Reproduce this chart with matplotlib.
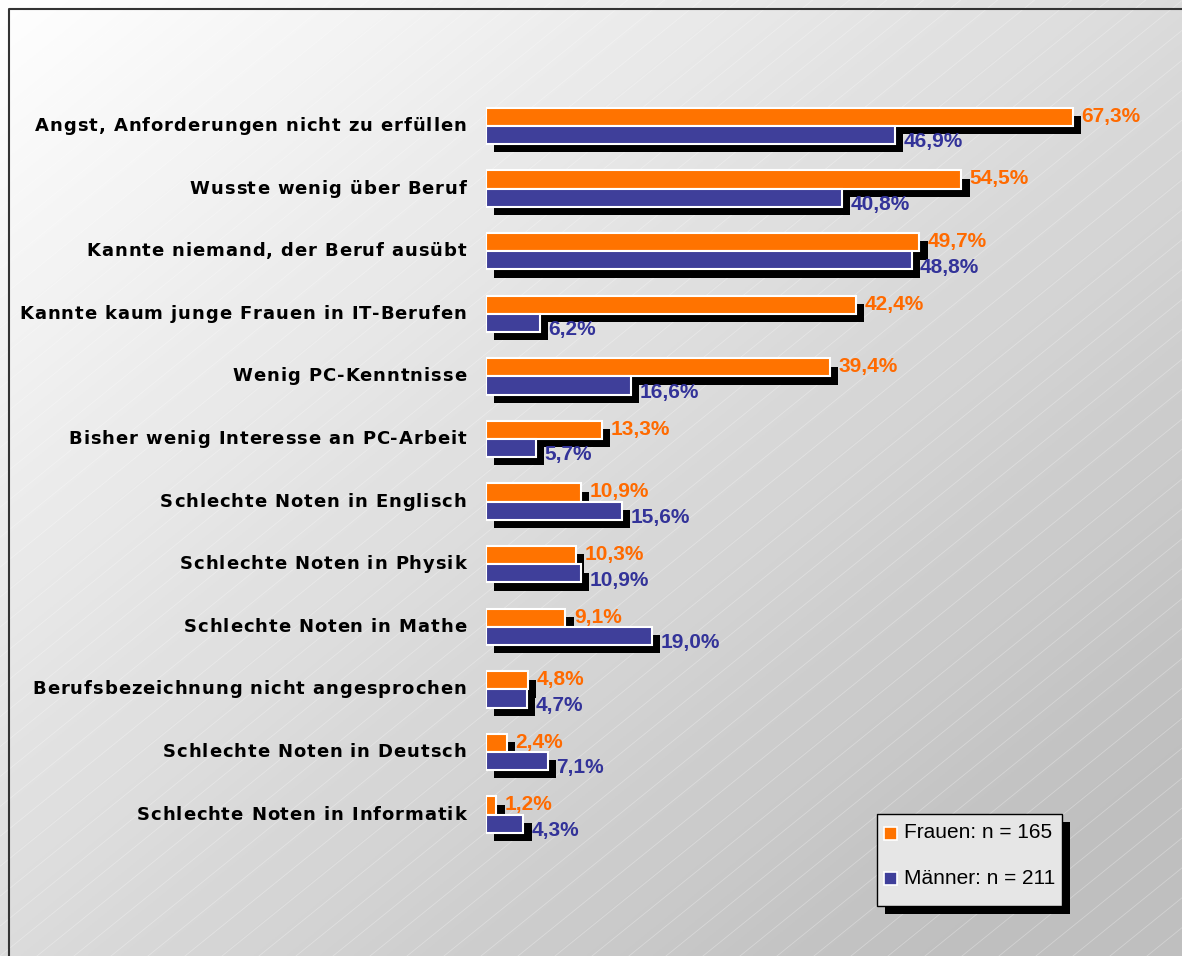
import matplotlib.pyplot as plt
import matplotlib.patheffects as pe
from matplotlib.patches import Rectangle
from matplotlib.font_manager import FontProperties, findfont
from matplotlib.ft2font import FT2Font
import numpy as np

plt.rcParams['font.family'] = ['Liberation Sans', 'DejaVu Sans']

# data
categories = ['Angst, Anforderungen nicht zu erfüllen',
              'Wusste wenig über Beruf',
              'Kannte niemand, der Beruf ausübt',
              'Kannte kaum junge Frauen in IT-Berufen',
              'Wenig PC-Kenntnisse',
              'Bisher wenig Interesse an PC-Arbeit',
              'Schlechte Noten in Englisch',
              'Schlechte Noten in Physik',
              'Schlechte Noten in Mathe',
              'Berufsbezeichnung nicht angesprochen',
              'Schlechte Noten in Deutsch',
              'Schlechte Noten in Informatik']
frauen = [67.3, 54.5, 49.7, 42.4, 39.4, 13.3, 10.9, 10.3, 9.1, 4.8, 2.4, 1.2]
maenner = [46.9, 40.8, 48.8, 6.2, 16.6, 5.7, 15.6, 10.9, 19.0, 4.7, 7.1, 4.3]
legend_labels = ['Frauen: n = 165', 'Männer: n = 211']

c_orange = '#ff7300'
c_blue = '#3f3f9a'
t_orange = '#ff6a00'
t_blue = '#333399'

W, H = 1182, 956
fig = plt.figure(figsize=(W / 100, H / 100), dpi=100)

# background gradient, white top left -> grey bottom right
bg = fig.add_axes([0, 0, 1, 1], zorder=-10)
gx, gy = np.meshgrid(np.linspace(0, 1, 400), np.linspace(0, 1, 400))
t = np.clip((gx + gy) / 2 / 0.9, 0, 1)
v = 1 - 0.25 * t
bg.imshow(np.dstack([v, v, v]), extent=[0, W, H, 0], aspect='auto')
for k in range(-40, 40):
    x0 = k * 37
    bg.plot([x0, x0 + 1200], [H, H - 970], color='white', lw=0.6, alpha=0.3)
bg.set_xlim(0, W)
bg.set_ylim(H, 0)
bg.axis('off')
# frame
bg.plot([9, 9, W + 5], [H + 5, 9, 9], color='#333333', lw=1.5)

# main axes: x=0 at pixel 486, 8.72 px per percent, rows 62.6 px apart
ax = fig.add_axes([486 / W, 0, 1 - 486 / W, 1])
ax.patch.set_alpha(0)
ax.set_xlim(0, (W - 486) / 8.72)
ax.set_ylim((H - 126) / 62.6, -126 / 62.6)
for s in ax.spines.values():
    s.set_visible(False)
ax.set_xticks([])
ax.set_yticks([])

y = np.arange(len(categories))
h = 0.29
shadow = [pe.SimplePatchShadow(offset=(6, -6), shadow_rgbFace='black', alpha=1),
          pe.Normal()]
b1 = ax.barh(y - h / 2, frauen, height=h, color=c_orange, edgecolor='white', lw=1.5)
b2 = ax.barh(y + h / 2, maenner, height=h, color=c_blue, edgecolor='white', lw=1.5)
for b in list(b1) + list(b2):
    b.set_path_effects(shadow)

dx = 8.5 / 8.72
for i in range(len(categories)):
    ax.text(frauen[i] + dx, y[i] - h / 2 - 0.01, ('%.1f%%' % frauen[i]).replace('.', ','),
            color=t_orange, fontsize=15, fontweight='bold', va='center', ha='left')
    ax.text(maenner[i] + dx, y[i] + h / 2 + 0.11, ('%.1f%%' % maenner[i]).replace('.', ','),
            color=t_blue, fontsize=15, fontweight='bold', va='center', ha='left')

# category labels: wide bold face with a little extra letter spacing,
# right aligned at x=466
lab_font = 'DejaVu Sans'
lab_size = 13
spacing = 0.9
ft = FT2Font(findfont(FontProperties(family=lab_font, weight='bold')))
ft.set_size(lab_size, 100)


def adv(ch):
    return ft.load_char(ord(ch)).linearHoriAdvance / 65536


for i, lab in enumerate(categories):
    widths = [adv(ch) for ch in lab]
    total = sum(widths) + spacing * (len(lab) - 1)
    x = 466 - total
    yy = 1 - (126 + 62.6 * i) / H
    for ch, w in zip(lab, widths):
        if ch != ' ':
            fig.text(x / W, yy, ch, ha='left', va='center', fontsize=lab_size,
                     family=lab_font, fontweight='bold', color='black')
        x += w + spacing

# legend box with drop shadow (pixel coords on background axes)
lx, ly, lw_, lh = 877, 814, 185, 92
bg.add_patch(Rectangle((lx + 8, ly + 8), lw_, lh, facecolor='black', zorder=3))
bg.add_patch(Rectangle((lx, ly), lw_, lh, facecolor='#e6e6e6', edgecolor='black',
                       lw=1.0, zorder=4))
for j, (lab, col) in enumerate(zip(legend_labels, [c_orange, c_blue])):
    cy = 833 + 45 * j
    bg.add_patch(Rectangle((884, cy - 6.5), 13, 13, facecolor=col, edgecolor='white',
                           lw=1.2, zorder=5))
    bg.text(904, cy, lab, ha='left', va='center', fontsize=15, color='black', zorder=6)

fig.savefig('out.png', dpi=100)
